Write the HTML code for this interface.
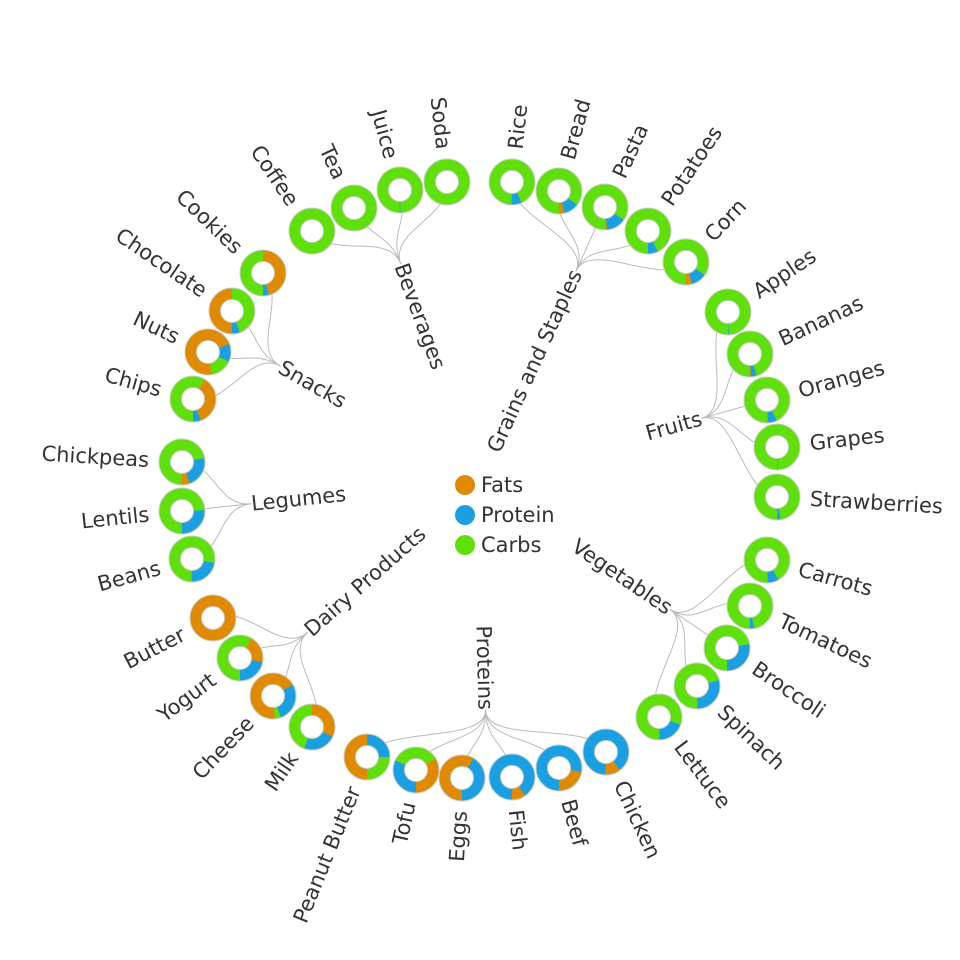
<!DOCTYPE html>
<html><head><meta charset="utf-8"><style>
html,body{margin:0;padding:0;background:#fff;}
svg{display:block;font-family:"DejaVu Sans","Liberation Sans",sans-serif;}
</style></head><body>
<svg id="s" width="960" height="960" viewBox="0 0 960 960" xmlns="http://www.w3.org/2000/svg">
<g id="links" fill="none" stroke="#bbb" stroke-width="1"></g>
<g id="donuts"></g>
<g id="labels" font-size="21" fill="#333"></g>
<g font-size="21" fill="#333">
<circle cx="465" cy="485" r="10" fill="#e08a00"/><text x="481" y="492">Fats</text>
<circle cx="465" cy="515" r="10" fill="#1aa0e2"/><text x="481" y="522">Protein</text>
<circle cx="465" cy="545" r="10" fill="#5fe00a"/><text x="481" y="552">Carbs</text>
</g>
</svg>
<script>
var O='#e08a00',B='#1aa0e2',G='#5fe00a';
var cx=480,cy=480;
var groups=[
["Beverages",[["Coffee",312,231,[]],["Tea",354,208,[]],["Juice",400,190,[[B,179,181]]],["Soda",447,182,[]]]],
["Grains and Staples",[["Rice",512,182,[[B,155,180],[O,180,183]]],["Bread",559,191,[[B,128,166],[O,166,180]]],["Pasta",605,207,[[B,125,175],[O,175,179]]],["Potatoes",648,231,[[B,155,180]]],["Corn",686,262,[[B,125,165],[O,165,180]]]]],
["Fruits",[["Apples",728,312,[[B,178,180]]],["Bananas",750,354,[[B,163,178],[O,178,180]]],["Oranges",767,400,[[B,155,177],[O,177,180]]],["Grapes",777,447,[[B,178,180]]],["Strawberries",777,497,[[B,171,179],[O,179,180]]]]],
["Vegetables",[["Carrots",767,560,[[B,150,178],[O,178,180]]],["Tomatoes",750,606,[[B,170,180]]],["Broccoli",727,648,[[B,80,180]]],["Spinach",697,686,[[B,75,178],[O,178,180]]],["Lettuce",659,717,[[B,110,178],[O,178,180]]]]],
["Proteins",[["Chicken",606,752,[[B,0,142],[O,142,182],[B,182,360]]],["Beef",559,768,[[B,0,100],[O,100,180],[B,180,360]]],["Fish",512,777,[[B,0,145],[O,145,180],[B,180,360]]],["Eggs",462,778,[[O,0,30],[B,30,180],[O,180,360]]],["Tofu",416,770,[[G,0,60],[O,60,180],[B,180,295],[G,295,360]]],["Peanut Butter",367,757,[[B,0,90],[G,90,180],[O,180,360]]]]],
["Dairy Products",[["Milk",312,727,[[O,0,115],[B,115,200],[G,200,360]]],["Cheese",273,696,[[O,0,60],[B,60,160],[G,160,175],[O,175,360]]],["Yogurt",240,658,[[O,30,100],[B,100,180],[G,180,390]]],["Butter",213,618,[[O,0,360]]]]],
["Legumes",[["Beans",192,559,[[B,100,180],[O,180,183]]],["Lentils",182,511,[[B,88,180]]],["Chickpeas",182,462,[[B,80,160],[O,160,180]]]]],
["Snacks",[["Chips",193,399,[[O,30,160],[B,160,180],[G,180,390]]],["Nuts",208,352,[[O,-190,70],[B,70,115],[G,115,170]]],["Chocolate",232,311,[[G,0,160],[B,160,180],[O,180,360]]],["Cookies",263,273,[[O,0,165],[B,165,180],[G,180,360]]]]]
];
var NS='http://www.w3.org/2000/svg';
function el(t,a,p,txt){var e=document.createElementNS(NS,t);for(var k in a)e.setAttribute(k,a[k]);if(txt)e.textContent=txt;p.appendChild(e);return e;}
var L=document.getElementById('links'),D=document.getElementById('donuts'),T=document.getElementById('labels');
function pt(x,y,r,a){var t=(a-90)*Math.PI/180;return [x+r*Math.cos(t),y+r*Math.sin(t)];}
function arc(x,y,R,r,a0,a1){
 if(a1-a0>=359.99){return "M"+(x)+","+(y-R)+"A"+R+","+R+" 0 1 1 "+x+","+(y+R)+"A"+R+","+R+" 0 1 1 "+x+","+(y-R)+"Z M"+x+","+(y-r)+"A"+r+","+r+" 0 1 0 "+x+","+(y+r)+"A"+r+","+r+" 0 1 0 "+x+","+(y-r)+"Z";}
 var p0=pt(x,y,R,a0),p1=pt(x,y,R,a1),q1=pt(x,y,r,a1),q0=pt(x,y,r,a0),lg=(a1-a0)>180?1:0;
 return "M"+p0+"A"+R+","+R+" 0 "+lg+" 1 "+p1+"L"+q1+"A"+r+","+r+" 0 "+lg+" 0 "+q0+"Z";}
function deg(a){return a*180/Math.PI;}
groups.forEach(function(g){
 var angs=g[1].map(function(n){return Math.atan2(n[2]-cy,n[1]-cx);});
 var s=0,c=0;angs.forEach(function(a){s+=Math.sin(a);c+=Math.cos(a);});
 var ga=Math.atan2(s,c),gr=230;
 var gx=cx+gr*Math.cos(ga),gy=cy+gr*Math.sin(ga);
 g[1].forEach(function(n,i){
  var a=angs[i],r1=Math.hypot(n[1]-cx,n[2]-cy),rm=(gr+r1)/2;
  var c1=[cx+rm*Math.cos(ga),cy+rm*Math.sin(ga)],c2=[cx+rm*Math.cos(a),cy+rm*Math.sin(a)];
  el('path',{d:"M"+gx+","+gy+"C"+c1+" "+c2+" "+n[1]+","+n[2]},L);
  el('path',{d:arc(n[1],n[2],23,11.5,0,360),fill:G,'fill-rule':'evenodd'},D);
  n[3].forEach(function(sg){
   var a0=sg[1],a1=sg[2];
   if(a1-a0>=360){el('path',{d:arc(n[1],n[2],23,11.5,0,360),fill:sg[0],'fill-rule':'evenodd'},D);}
   else el('path',{d:arc(n[1],n[2],23,11.5,a0,a1),fill:sg[0]},D);
  });
  el('circle',{cx:n[1],cy:n[2],r:23,fill:'none',stroke:'#ccc','stroke-width':1},D);
  el('circle',{cx:n[1],cy:n[2],r:11.5,fill:'#fff',stroke:'#ccc','stroke-width':1},D);
  var lr=r1+33,lx=cx+lr*Math.cos(a),ly=cy+lr*Math.sin(a),d=deg(a);
  var right=Math.cos(a)>=0;
  el('text',{x:0,y:0,'dominant-baseline':'central','text-anchor':right?'start':'end',transform:'translate('+lx+','+ly+') rotate('+(right?d:d+180)+')'},T,n[0]);
 });
 var gd=deg(ga),right=Math.cos(ga)>=0;
 el('text',{x:0,y:0,'dominant-baseline':'central','text-anchor':right?'end':'start',transform:'translate('+gx+','+gy+') rotate('+(right?gd:gd+180)+')'},T,g[0]);
});
</script>
</body></html>
